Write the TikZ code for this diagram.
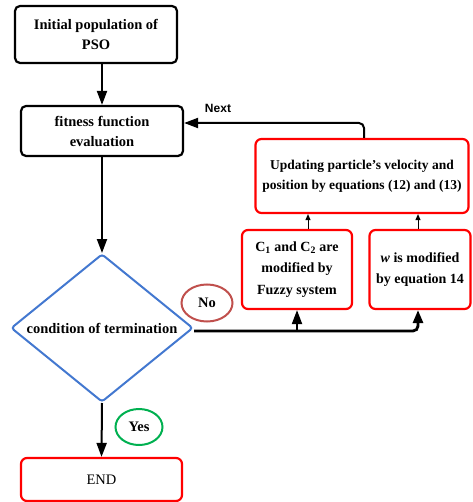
\documentclass[tikz,border=0pt]{standalone}
\usepackage{fontspec}
\setmainfont{Liberation Serif}
\newfontfamily\nextfont{Liberation Sans}
\usetikzlibrary{arrows.meta,shapes.geometric}
\definecolor{boxred}{HTML}{FF0000}
\definecolor{diablue}{HTML}{4378D0}
\definecolor{nored}{HTML}{C0504D}
\definecolor{yesgreen}{HTML}{00B050}
\tikzset{
  txt/.style={font=\fontsize{14.5}{20}\selectfont\bfseries, align=center, inner sep=0pt},
  blackbox/.style={txt, draw=black, line width=2.2pt, rounded corners=5pt, rectangle},
  redbox/.style={txt, draw=boxred, line width=2.2pt, rounded corners=6pt, rectangle},
  flow/.style={line width=2pt, -{Triangle[length=14pt,width=10pt]}},
  thin flow/.style={line width=1pt, -{Triangle[length=6pt,width=5pt]}},
  tag/.style={txt, ellipse, line width=2pt, inner sep=0pt}
}
\begin{document}
\begin{tikzpicture}[x=1pt,y=-1pt]
\useasboundingbox (0,0) rectangle (472,502);
\node[blackbox, minimum width=162pt, minimum height=57pt] (init) at (96,34.5) {Initial population of\\PSO};
\node[blackbox, minimum width=162pt, minimum height=50pt] (fit) at (102,131) {fitness function\\evaluation};
\node[txt, shape=diamond, draw=diablue, line width=2pt, rounded corners=3pt, shape aspect=1.23, minimum width=182pt, minimum height=148pt] (dia) at (102,328) {condition of termination};
\node[redbox, minimum width=161pt, minimum height=43pt, font=\fontsize{14.5}{20}\selectfont] (end) at (101.5,479.5) {END};
\node[redbox, minimum width=213pt, minimum height=74pt, font=\fontsize{13.5}{20}\selectfont\bfseries] (upd) at (362,176) {Updating particle's velocity and\\position by equations (12) and (13)};
\node[redbox, minimum width=110pt, minimum height=79pt, font=\fontsize{14}{21.5}\selectfont\bfseries] (c12) at (297,269.5) {C\textsubscript{1} and C\textsubscript{2} are\\modified by\\Fuzzy system};
\node[redbox, minimum width=101pt, minimum height=79pt, font=\fontsize{14}{21.5}\selectfont\bfseries] (wm) at (420,269.5) {\textit{w} is modified\\by equation 14};
\node[tag, draw=nored, minimum width=51pt, minimum height=37pt] (no) at (207,303) {No};
\node[tag, draw=yesgreen, minimum width=47pt, minimum height=36pt] (yes) at (139,427) {Yes};
\node[font=\nextfont\bfseries\fontsize{12}{14}\selectfont, inner sep=0pt] (nextlbl) at (218,108) {Next};
% connectors
\draw[flow] (init.south -| fit.north) -- (fit.north);
\draw[flow] (fit.south) -- (dia.north);
\draw[flow] (dia.south) -- (end.north);
\coordinate (nextin) at ([yshift=8pt]fit.east);
\coordinate (updtop) at ([xshift=2pt]upd.north);
\draw[flow, rounded corners=5pt] (updtop) |- (nextin);
\coordinate (dout) at ([yshift=-3pt]dia.east);
\coordinate (wbot) at ([xshift=-2pt]wm.south);
\draw[line width=2.8pt, rounded corners=5pt, -{Triangle[length=13pt,width=10pt]}] (dout) -| (wbot);
\draw[flow] (dout -| c12.south) -- (c12.south);
\coordinate (c12top) at ([xshift=11pt]c12.north);
\draw[thin flow] (c12top) -- (c12top |- upd.south);
\coordinate (wtop) at ([xshift=-2pt]wm.north);
\draw[thin flow] (wtop) -- (wtop |- upd.south);
\end{tikzpicture}
\end{document}
